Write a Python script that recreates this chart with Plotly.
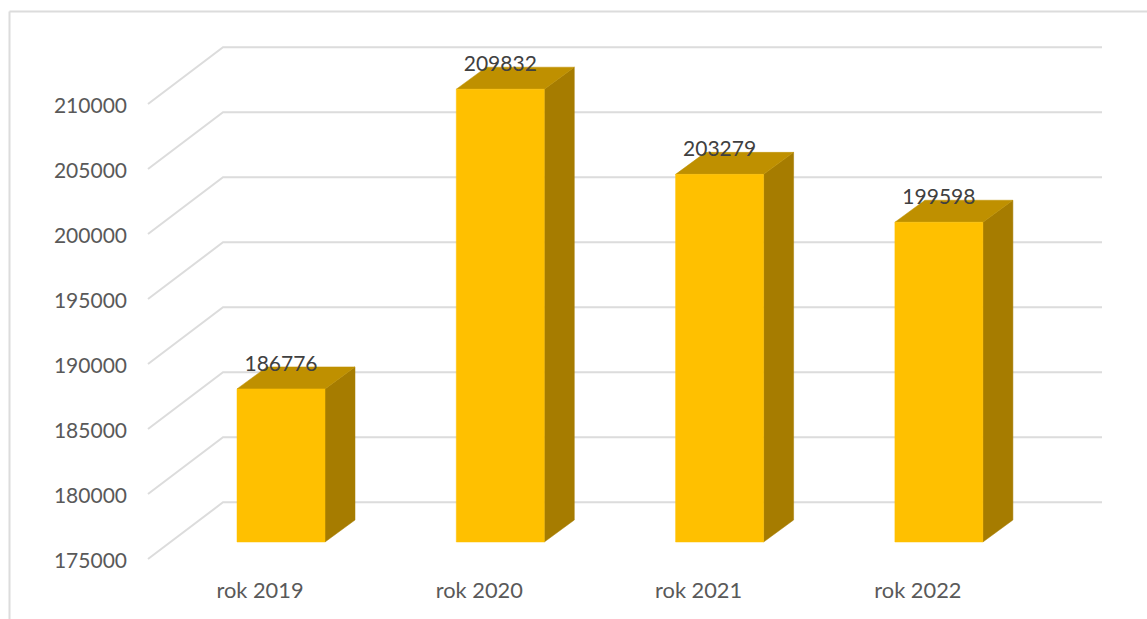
import plotly.graph_objects as go

categories = ["rok 2019", "rok 2020", "rok 2021", "rok 2022"]
values = [186776, 209832, 203279, 199598]
axis_ticks = [175000, 180000, 185000, 190000, 195000, 200000, 205000, 210000]

W, H = 1147, 619
L, R, T, B = 128, 40, 20, 44
PX_PER_UNIT_Y = 0.013       # pixels per value unit
PX_PER_CAT = 219.3          # pixels per category step
X0_PX = 281.0               # pixel centre of first category
BACK_BASE_PX = 502.3        # back wall position of the axis minimum
BASE = axis_ticks[0]

px_x = lambda u: u / PX_PER_CAT       # pixel distance -> x units
px_y = lambda u: u / PX_PER_UNIT_Y    # pixel distance -> y units

x_range = [(L - X0_PX) / PX_PER_CAT, (W - R - X0_PX) / PX_PER_CAT]
y_range = [BASE + (BACK_BASE_PX - (H - B)) / PX_PER_UNIT_Y,
           BASE + (BACK_BASE_PX - T) / PX_PER_UNIT_Y]

FLOOR_X_FRONT = px_x(148 - X0_PX)
FLOOR_X_BACK = px_x(223 - X0_PX)
WALL_X_END = px_x(1102 - X0_PX)
WALL_DROP = px_y(56.7)     # front edge of the wall grid below back edge
TICK_DROP = px_y(58)       # axis labels sit slightly below the wall's front edge
BAR_DROP = px_y(39.7)      # bar front face below back wall
BAR_HALF = px_x(44)
DEPTH_X = px_x(30)
DEPTH_Y = px_y(22)
LABEL_UP = px_y(23.5)
CAT_SHIFT = px_x(21)       # category labels sit left of the bar centres

GRID = "#dcdcdc"
FRONT = "#ffc000"
TOP = "#bf9000"
SIDE = "#a67c00"
FONT = "Lato"

fig = go.Figure()

gx, gy = [], []
for v in axis_ticks:
    gx += [FLOOR_X_FRONT, FLOOR_X_BACK, WALL_X_END, None]
    gy += [v - WALL_DROP, v, v, None]
fig.add_trace(go.Scatter(x=gx, y=gy, mode="lines",
                         line=dict(color=GRID, width=2), hoverinfo="skip"))

def poly(xs, ys, color):
    fig.add_trace(go.Scatter(x=xs, y=ys, mode="lines", fill="toself", fillcolor=color,
                             line=dict(color=color, width=0.5), hoverinfo="skip"))

for i, v in enumerate(values):
    xl, xr = i - BAR_HALF, i + BAR_HALF
    y0, y1 = BASE - BAR_DROP, v - BAR_DROP
    poly([xr, xr + DEPTH_X, xr + DEPTH_X, xr, xr],
         [y0, y0 + DEPTH_Y, y1 + DEPTH_Y, y1, y0], SIDE)
    poly([xl, xl + DEPTH_X, xr + DEPTH_X, xr, xl],
         [y1, y1 + DEPTH_Y, y1 + DEPTH_Y, y1, y1], TOP)
    poly([xl, xr, xr, xl, xl], [y0, y0, y1, y1, y0], FRONT)

fig.add_trace(go.Scatter(
    x=list(range(len(values))),
    y=[v - BAR_DROP + LABEL_UP for v in values],
    mode="text", text=[str(v) for v in values], textposition="middle center",
    textfont=dict(family=FONT, size=21, color="#404040"), hoverinfo="skip"))

border = dict(type="line", xref="paper", yref="paper", line=dict(color=GRID, width=2), layer="below")
plot_w, plot_h = W - L - R, H - T - B
xp = lambda p: (p - L) / plot_w
yp = lambda p: (H - B - p) / plot_h
fig.update_layout(
    width=W, height=H, showlegend=False,
    margin=dict(l=L, r=R, t=T, b=B, pad=0),
    paper_bgcolor="white", plot_bgcolor="white",
    font=dict(family=FONT, size=21, color="#595959"),
    xaxis=dict(range=x_range, tickvals=[i - CAT_SHIFT for i in range(len(categories))],
               ticktext=categories, tickfont=dict(size=21.8),
               showgrid=False, zeroline=False, showline=False, ticks="", fixedrange=True),
    yaxis=dict(range=y_range, tickvals=[v - TICK_DROP for v in axis_ticks],
               ticktext=[str(v) for v in axis_ticks],
               showgrid=False, zeroline=False, showline=False, ticks="", fixedrange=True),
    shapes=[
        dict(border, x0=xp(9.5), x1=xp(W), y0=yp(11.5), y1=yp(11.5)),
        dict(border, x0=xp(9.5), x1=xp(9.5), y0=yp(11.5), y1=yp(H)),
    ],
)
fig.write_html("out.html", config={"displayModeBar": False},
               post_script="document.body.style.margin='0';document.body.style.overflow='hidden';")
